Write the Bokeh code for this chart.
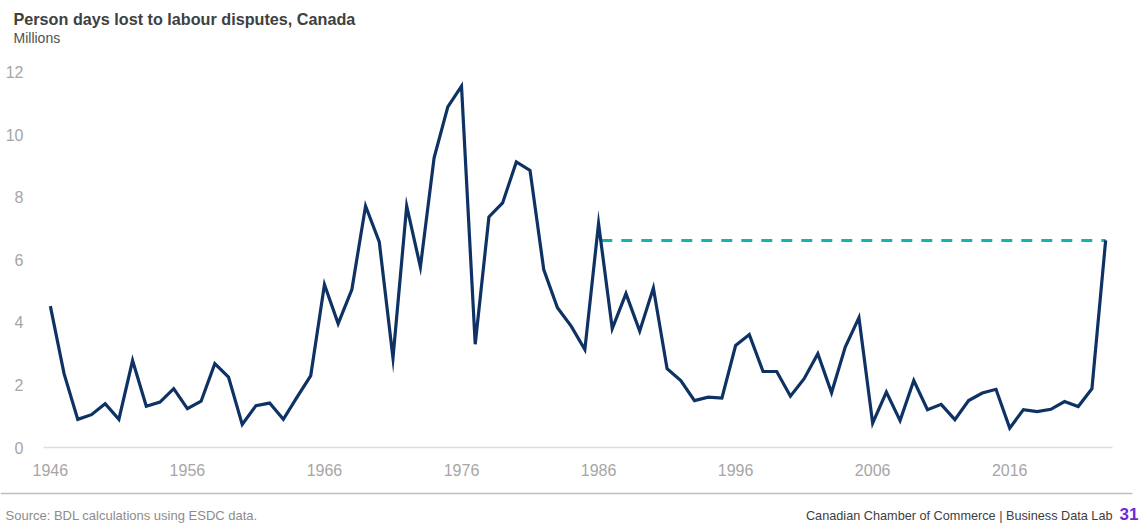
from bokeh.plotting import figure
from bokeh.models import FixedTicker, Range1d
from bokeh.layouts import column
from bokeh.embed import file_html
from bokeh.resources import INLINE
from bokeh.core.properties import value

years = list(range(1946, 2024))
days_lost = [
    4.52, 2.36, 0.90, 1.05, 1.40, 0.90, 2.78, 1.32, 1.45, 1.88,
    1.24, 1.48, 2.68, 2.25, 0.74, 1.34, 1.42, 0.90, 1.61, 2.30,
    5.21, 3.96, 5.05, 7.72, 6.57, 2.86, 7.72, 5.77, 9.26, 10.89,
    11.55, 3.30, 7.37, 7.82, 9.13, 8.86, 5.69, 4.47, 3.88, 3.13,
    7.16, 3.80, 4.92, 3.72, 5.10, 2.52, 2.14, 1.50, 1.61, 1.58,
    3.26, 3.61, 2.43, 2.43, 1.64, 2.20, 3.00, 1.75, 3.21, 4.15,
    0.78, 1.77, 0.86, 2.14, 1.21, 1.38, 0.89, 1.50, 1.74, 1.86,
    0.62, 1.21, 1.15, 1.22, 1.47, 1.31, 1.88, 6.62,
]
ref_years = [1986.2, 2023]
ref_level = [6.62, 6.62]
x_ticks = [1946, 1956, 1966, 1976, 1986, 1996, 2006, 2016]
y_ticks = [0, 2, 4, 6, 8, 10, 12]

FONT = "Liberation Sans"
W = 1143
HEAD_H, MAIN_H, FOOT_H = 56, 434, 33


def blank(height, top):
    f = figure(width=W, height=height, output_backend="svg", toolbar_location=None,
               x_range=Range1d(0, W), y_range=Range1d(top + height, top),
               min_border_left=0, min_border_right=0, min_border_top=0, min_border_bottom=0)
    f.axis.visible = False
    f.grid.visible = False
    f.outline_line_color = None
    f.frame_align = False
    return f


def txt(f, x, y, s, size, color, bold=False, align="left"):
    f.text(x=[x], y=[y], text=[s], text_font=value(FONT), text_font_size=size,
           text_color=color, text_font_style="bold" if bold else "normal",
           text_baseline="middle", text_align=align)


# header
h = blank(HEAD_H, 0)
txt(h, 13, 18, "Person days lost to labour disputes, Canada", "16.2px", "#404040", bold=True)
txt(h, 13, 37, "Millions", "14px", "#505050")

# main chart
p = figure(width=W, height=MAIN_H, output_backend="svg", toolbar_location=None,
           x_range=(1945.5, 2023.5), y_range=(0, 12.5),
           min_border_left=43, min_border_right=31, min_border_top=0, min_border_bottom=43)
p.frame_align = False
p.outline_line_color = None
p.xgrid.grid_line_color = None
p.ygrid.grid_line_color = None

p.line(ref_years, ref_level, line_color="#12B5AE", line_width=3, line_dash="11 9")
p.line(years, days_lost, line_color="#0E3263", line_width=3.2, line_join="miter")

p.xaxis.ticker = FixedTicker(ticks=x_ticks)
p.yaxis.ticker = FixedTicker(ticks=y_ticks)
for ax in (p.xaxis[0], p.yaxis[0]):
    ax.major_tick_line_color = None
    ax.minor_tick_line_color = None
    ax.major_label_text_color = "#a6a6a6"
    ax.major_label_text_font = FONT
    ax.major_label_text_font_size = "16px"
p.yaxis.axis_line_color = None
p.yaxis.major_label_standoff = 14
p.xaxis.axis_line_color = "#dedede"
p.xaxis.axis_line_width = 1.5
p.xaxis.major_label_standoff = 10

# footer
ft = blank(FOOT_H, HEAD_H + MAIN_H)
ft.segment(x0=[0], y0=[493], x1=[1132], y1=[493], line_color="#bfbfbf", line_width=1.5)
txt(ft, 5, 515, "Source: BDL calculations using ESDC data.", "13px", "#8c8c8c")
txt(ft, 1112, 515, "Canadian Chamber of Commerce | Business Data Lab", "12.7px", "#404040", align="right")
txt(ft, 1119, 513, "31", "17px", "#6A2BD9", bold=True)

layout = column(h, p, ft, spacing=0)
open("out.html", "w").write(file_html(layout, INLINE))
